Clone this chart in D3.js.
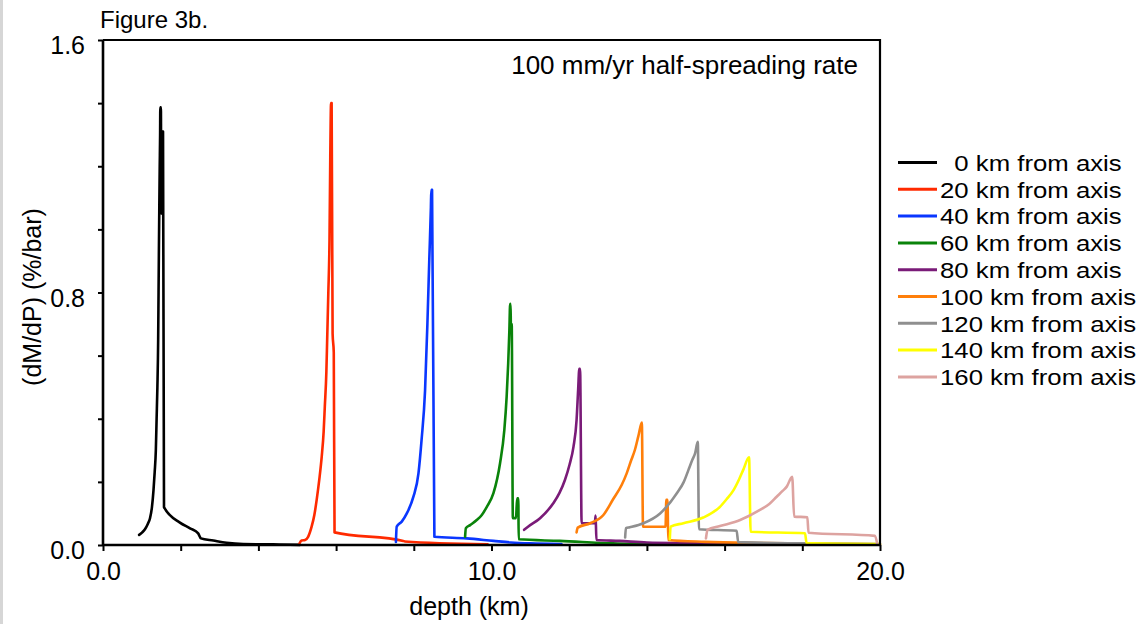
<!DOCTYPE html>
<html>
<head>
<meta charset="utf-8">
<script src="https://cdn.jsdelivr.net/npm/d3@7"></script>
<style>
  html, body { margin: 0; padding: 0; background: #fff; }
  svg { display: block; }
  text { font-family: "Liberation Sans", Arial, sans-serif; fill: #000; }
</style>
</head>
<body>
<svg id="chart" width="1144" height="624"></svg>
<script>
// Distance from the ridge axis for each profile (km)
const distances = [0, 20, 40, 60, 80, 100, 120, 140, 160];
const colors = ["#000000", "#ff2a00", "#0a37ff", "#0a830a", "#7a1b78", "#ff7f0a", "#8f8f8f", "#ffff00", "#dda3a0"];

// Profiles of dM/dP (%/bar) against depth (km): [depth, value]
const profile0 = [[0.93,0.032],[1.01,0.040],[1.08,0.050],[1.15,0.066],[1.21,0.085],[1.26,0.120],[1.30,0.174],[1.33,0.23],[1.36,0.30],[1.38,0.40],[1.40,0.50],[1.42,0.65],[1.43,0.80],[1.44,0.95],[1.45,1.08],[1.46,1.20],[1.47,1.30],[1.475,1.387],[1.49,1.387],[1.50,1.05],[1.53,1.31],[1.545,1.31],[1.57,0.12],[1.98,0.071],[2.24,0.053],[2.45,0.037],[2.52,0.021],[2.84,0.014],[3.18,0.007],[3.61,0.003],[4.38,0.002],[5.07,0.0005]];
const profile20 = [[5.05,0.003],[5.11,0.014],[5.20,0.016],[5.28,0.026],[5.37,0.058],[5.44,0.095],[5.50,0.143],[5.57,0.21],[5.63,0.28],[5.68,0.36],[5.71,0.44],[5.75,0.55],[5.77,0.65],[5.80,0.80],[5.83,0.966],[5.85,1.23],[5.87,1.40],[5.885,1.40],[5.91,0.67],[5.94,0.61],[5.96,0.040],[7.73,0.013],[7.77,0.011],[9.9,0.002]];
const profile40 = [[7.54,0.010],[7.56,0.058],[7.69,0.074],[7.82,0.10],[7.99,0.153],[8.12,0.227],[8.20,0.333],[8.29,0.49],[8.35,0.70],[8.40,0.91],[8.44,1.07],[8.45,1.125],[8.47,1.125],[8.53,0.026],[9.36,0.021],[10.05,0.013],[10.5,0.008],[11.0,0.005],[11.8,0.003]];
const profile60 = [[9.32,0.026],[9.34,0.053],[9.45,0.063],[9.62,0.079],[9.75,0.095],[9.88,0.121],[10.05,0.164],[10.22,0.259],[10.33,0.364],[10.39,0.47],[10.43,0.576],[10.46,0.68],[10.48,0.764],[10.49,0.764],[10.50,0.69],[10.52,0.70],[10.55,0.085],[10.63,0.085],[10.66,0.148],[10.69,0.148],[10.70,0.018],[11.76,0.013],[13.13,0.005],[14.5,0.002]];
const profile80 = [[10.84,0.048],[10.94,0.058],[11.25,0.085],[11.59,0.132],[11.75,0.165],[11.89,0.206],[12.01,0.255],[12.11,0.311],[12.19,0.396],[12.23,0.491],[12.26,0.558],[12.28,0.558],[12.32,0.069],[12.66,0.069],[12.68,0.093],[12.70,0.016],[13.3,0.013],[14.0,0.008],[16.0,0.005],[18.0,0.004]];
const profile100 = [[12.19,0.040],[12.22,0.055],[12.54,0.069],[12.88,0.095],[13.13,0.145],[13.35,0.19],[13.48,0.227],[13.60,0.27],[13.69,0.301],[13.78,0.345],[13.87,0.388],[13.90,0.058],[14.48,0.058],[14.50,0.143],[14.53,0.143],[14.55,0.016],[15.5,0.010],[17.0,0.006],[20.0,0.002]];
const profile120 = [[13.44,0.024],[13.46,0.053],[13.56,0.056],[13.91,0.069],[14.34,0.10],[14.77,0.164],[14.95,0.20],[15.07,0.238],[15.17,0.27],[15.24,0.29],[15.31,0.327],[15.34,0.05],[16.31,0.045],[16.35,0.009],[18.0,0.005],[20.0,0.003]];
const profile140 = [[14.59,0.018],[14.61,0.058],[14.94,0.069],[15.45,0.087],[15.88,0.121],[16.05,0.145],[16.23,0.174],[16.38,0.21],[16.48,0.238],[16.63,0.278],[16.67,0.042],[18.07,0.037],[18.11,0.006],[20.0,0.003]];
const profile160 = [[15.52,0.021],[15.56,0.048],[15.88,0.06],[16.40,0.079],[16.91,0.111],[17.15,0.13],[17.34,0.153],[17.50,0.172],[17.60,0.185],[17.74,0.216],[17.79,0.09],[18.13,0.088],[18.16,0.039],[19.87,0.029],[19.93,0.002]];

// Axis ticks and labels
const xTicks = [0, 2, 4, 6, 8, 10, 12, 14, 16, 18, 20];
const xLabelled = [0, 10, 20];
const yTicks = [0, 0.2, 0.4, 0.6, 0.8, 1.0, 1.2, 1.4, 1.6];
const yLabelled = [0, 0.8, 1.6];

const profiles = [profile0, profile20, profile40, profile60, profile80, profile100, profile120, profile140, profile160];
const series = distances.map((km, i) => ({ km, color: colors[i], values: profiles[i] }));

const svg = d3.select("#chart");
const plot = { left: 103, right: 880, top: 40, bottom: 545 };

const x = d3.scaleLinear().domain([0, 20]).range([plot.left, plot.right]);
const y = d3.scaleLinear().domain([0, 1.6]).range([plot.bottom, plot.top]);
const fmt = d3.format(".1f");

// faint strip at the left edge of the page
svg.append("rect").attr("x", 0).attr("y", 0).attr("width", 3).attr("height", 624).attr("fill", "#d6d6d6");

// curves
const line = d3.line().x(d => x(d[0])).y(d => y(d[1])).curve(d3.curveMonotoneX);
svg.append("g").selectAll("path").data(series).join("path")
  .attr("d", d => line(d.values))
  .attr("fill", "none")
  .attr("stroke", d => d.color)
  .attr("stroke-width", 2.6)
  .attr("stroke-linejoin", "round")
  .attr("stroke-linecap", "round");

// frame on top and right
svg.append("path")
  .attr("d", `M${plot.left},${plot.top}H${plot.right}V${plot.bottom}`)
  .attr("fill", "none").attr("stroke", "#000").attr("stroke-width", 2.2);

// x axis
const xAxis = svg.append("g").attr("transform", `translate(0,${plot.bottom})`)
  .call(d3.axisBottom(x).tickValues(xTicks).tickSize(6).tickPadding(11)
    .tickFormat(d => xLabelled.includes(d) ? fmt(d) : ""));
xAxis.select(".domain").attr("stroke-width", 2.6).attr("d", `M${plot.left},0H${plot.right}`);
xAxis.selectAll(".tick line").attr("stroke-width", 2);
xAxis.selectAll(".tick text").attr("font-size", 25).attr("font-family", "Liberation Sans, Arial, sans-serif");

// y axis
const yAxis = svg.append("g").attr("transform", `translate(${plot.left},0)`)
  .call(d3.axisLeft(y).tickValues(yTicks).tickSize(5).tickPadding(13)
    .tickFormat(d => yLabelled.some(v => Math.abs(v - d) < 1e-9) ? fmt(d) : ""));
yAxis.select(".domain").attr("stroke-width", 2.6).attr("d", `M0,${plot.top}V${plot.bottom}`);
yAxis.selectAll(".tick line").attr("stroke-width", 2);
yAxis.selectAll(".tick text").attr("font-size", 25).attr("dy", "0.55em").attr("font-family", "Liberation Sans, Arial, sans-serif");

// axis titles
svg.append("text").attr("x", 469).attr("y", 615).attr("text-anchor", "middle")
  .attr("font-size", 25).text("depth (km)");
svg.append("text").attr("transform", "translate(41,297) rotate(-90)").attr("text-anchor", "middle")
  .attr("font-size", 25).text("(dM/dP) (%/bar)");

// headings
svg.append("text").attr("x", 100).attr("y", 28).attr("font-size", 24).text("Figure 3b.");
svg.append("text").attr("x", 858).attr("y", 74).attr("text-anchor", "end")
  .attr("font-size", 26).text("100 mm/yr half-spreading rate");

// legend
const legend = svg.append("g").selectAll("g").data(series).join("g")
  .attr("transform", (d, i) => `translate(898,${162.5 + i * 26.8})`);
legend.append("line").attr("x1", 0).attr("x2", 39)
  .attr("stroke", d => d.color).attr("stroke-width", 3);
legend.append("text").attr("transform", "translate(42,0) scale(1.12,1)")
  .attr("dy", "0.36em").attr("font-size", 23)
  .style("white-space", "pre")
  .text(d => (d.km < 10 ? "  " : "") + `${d.km} km from axis`);
</script>
</body>
</html>
